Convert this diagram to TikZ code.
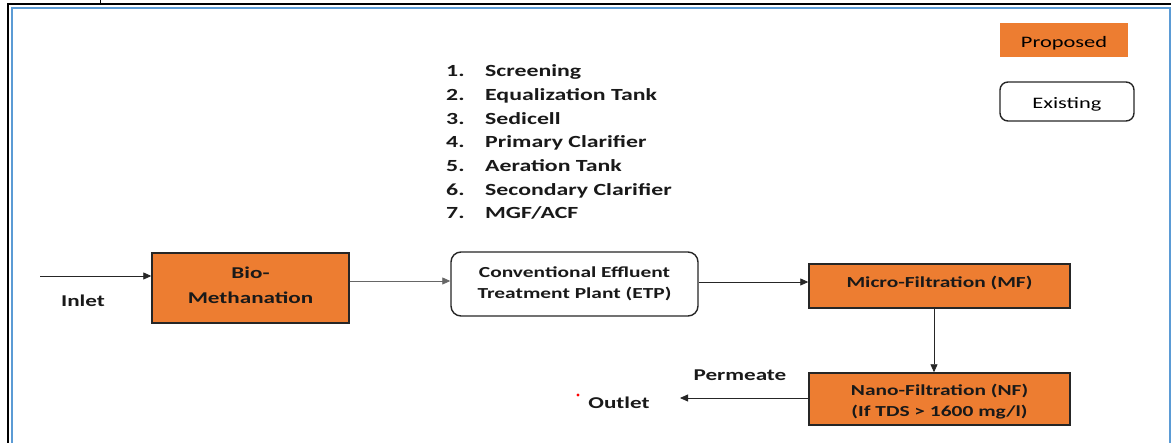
\documentclass[tikz,border=0pt]{standalone}
\usepackage{fontspec}
\setmainfont[FakeStretch=1.4]{Carlito}
\usetikzlibrary{arrows.meta,calc}
\definecolor{prop}{HTML}{ED7D31}
\definecolor{frameblue}{HTML}{5B9BD5}
\begin{document}
\begin{tikzpicture}[x=1pt,y=-1pt,
  txt/.style={font=\fontsize{16.5}{21}\selectfont\bfseries, text=black!90},
  boxtxt/.style={font=\fontsize{15.3}{21}\selectfont\bfseries, text=black!90, align=center, inner sep=0pt},
  newbox/.style={draw=black!85, line width=1.4pt, fill=prop, inner sep=0pt},
  oldbox/.style={draw=black!85, line width=1.4pt, fill=white, rounded corners=10pt, inner sep=0pt},
  arr/.style={-{Triangle[length=8pt,width=7pt]}, line width=0.8pt, black!85},
  lbl/.style={txt, inner sep=0pt}]
\useasboundingbox (0,0) rectangle (1171,443);
% page frame and table rules
\draw[line width=2pt] (7.7,443) -- (7.7,4.3) -- (1171,4.3);
\draw[line width=1pt] (100.7,0) -- (100.7,4.3);
\draw[frameblue, line width=2pt] (11.8,443) -- (11.8,7.8) -- (1169.5,7.8) -- (1169.5,443);

% legend
\node[fill=prop, minimum width=128pt, minimum height=34pt, inner sep=0pt] (leg1) at (1064,40) {};
\node[inner sep=0pt, font=\fontsize{16}{20}\selectfont] (leg1t) at ([yshift=-3pt]leg1.center) {Proposed};
\node[draw=black!85, line width=1.4pt, rounded corners=8pt, minimum width=134pt, minimum height=39pt,
      inner sep=0pt] (leg2) at (1067,101.5) {};
\node[inner sep=0pt, font=\fontsize{16}{20}\selectfont] (leg2t) at ([yshift=-2.5pt]leg2.center) {Existing};

% ETP stages
\node[font=\fontsize{17}{21}\selectfont\bfseries, text=black!90, anchor=north west, inner sep=0pt, align=left] (stages) at (446,62) {%
  \begin{tabular}{@{}p{39pt}@{}l@{}}
  1. & Screening\\[2.67pt]
  2. & Equalization Tank\\[2.67pt]
  3. & Sedicell\\[2.67pt]
  4. & Primary Clarifier\\[2.67pt]
  5. & Aeration Tank\\[2.67pt]
  6. & Secondary Clarifier\\[2.67pt]
  7. & MGF/ACF
  \end{tabular}};

% process blocks
\node[newbox, minimum width=197pt, minimum height=70pt] (bio) at (250.5,288) {};
\node[boxtxt, font=\fontsize{16.5}{25}\selectfont\bfseries] (biot) at ([yshift=3pt]bio.center) {Bio-\\Methanation};
\node[oldbox, minimum width=247pt, minimum height=64pt] (etp) at (574.5,284) {};
\node[boxtxt] (etpt) at (etp.center) {Conventional Effluent\\Treatment Plant (ETP)};
\node[newbox, minimum width=261pt, minimum height=44pt] (mf) at (939.5,286) {};
\node[boxtxt] (mft) at ([yshift=3pt]mf.center) {Micro-Filtration (MF)};
\node[newbox, minimum width=261pt, minimum height=52pt] (nf) at (939.5,399) {};
\node[boxtxt] (nft) at ([yshift=-2.5pt]nf.center) {Nano-Filtration (NF)\\(If TDS > 1600 mg/l)};

\coordinate (in) at (40,276);
\coordinate (out) at (680,398);

% flow
\draw[arr] (in) -- (in -| bio.west);
\draw[arr, black!60] ([yshift=7pt]bio.east) -- ([yshift=7pt]bio.east -| etp.west);
\draw[arr] ([yshift=2pt]etp.east) -- ([yshift=2pt]etp.east -| mf.west);
\draw[arr] ([xshift=-5.5pt]mf.south) -- ([xshift=-5.5pt]mf.south |- nf.north);
\draw[arr] (nf.west |- out) -- (out);

% labels
\node[lbl] (inlet) at (83,301) {Inlet};
\node[lbl] (perm) at (740,375) {Permeate};
\node[lbl] (outlet) at (619,403) {Outlet};
\fill[red] (578,395) circle (1.7pt);
\end{tikzpicture}
\end{document}
